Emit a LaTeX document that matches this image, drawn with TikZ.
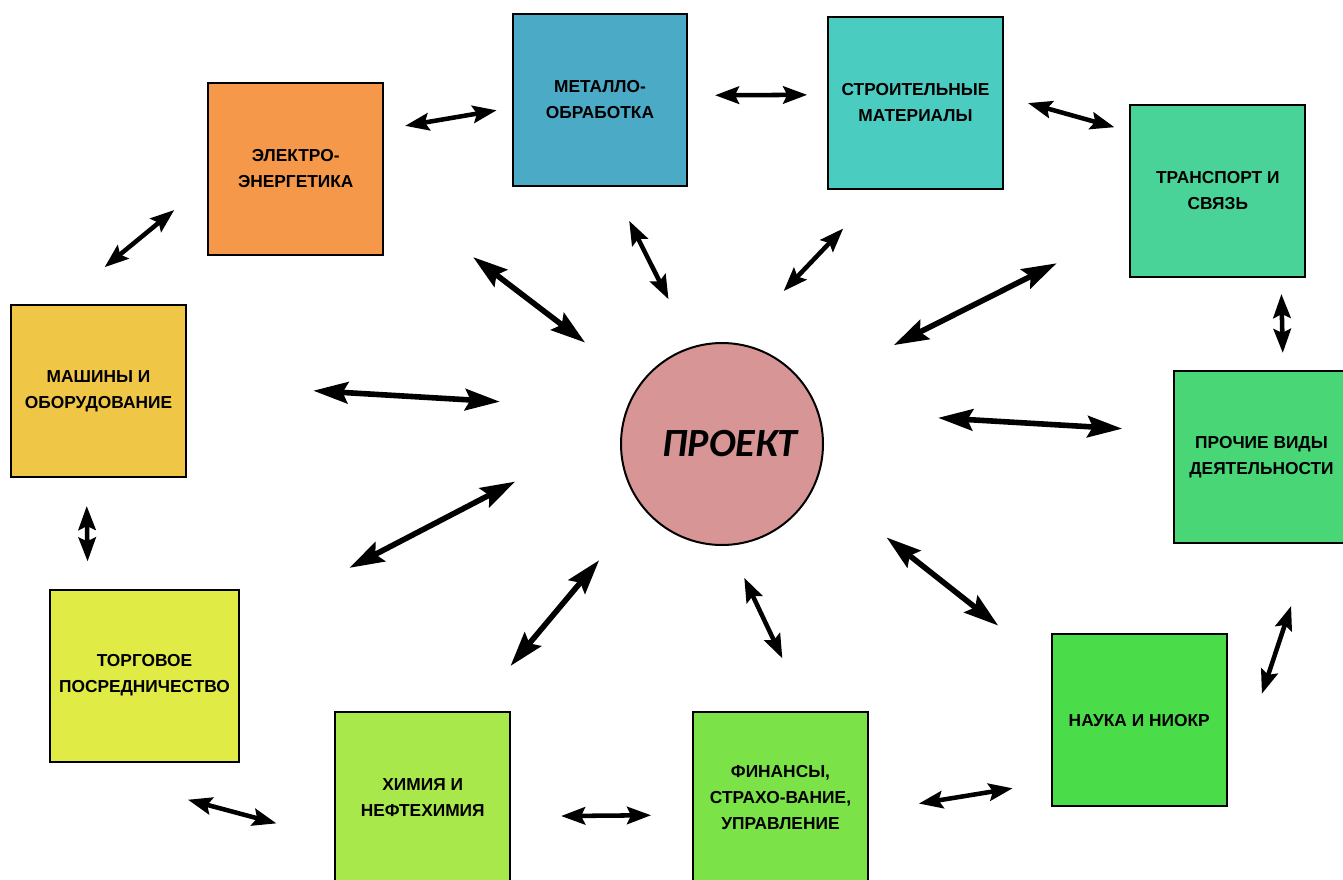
\documentclass[tikz,border=0pt]{standalone}
\usepackage{fontspec}
\setmainfont{Liberation Sans}
\newfontfamily\proektfont{Carlito}
\usepackage{tikz}
\usetikzlibrary{arrows.meta}
\definecolor{elektroC}{HTML}{F5984A}
\definecolor{metalloC}{HTML}{4BABC6}
\definecolor{stroitC}{HTML}{4BCCC0}
\definecolor{transportC}{HTML}{4AD399}
\definecolor{prochieC}{HTML}{48D677}
\definecolor{naukaC}{HTML}{4BDC4A}
\definecolor{finansyC}{HTML}{7BE348}
\definecolor{himiaC}{HTML}{A9E84B}
\definecolor{torgC}{HTML}{E0EB46}
\definecolor{mashinyC}{HTML}{F0C647}
\definecolor{proektC}{HTML}{D89595}

\begin{document}
\begin{tikzpicture}[x=0.75pt, y=-0.75pt,
  sector/.style={draw=black, line width=1.5pt, minimum width=131pt, minimum height=129pt,
    align=center, inner sep=2pt, font=\fontsize{13}{19.5}\selectfont\bfseries},
  link/.style={line width=3.4pt, >={Stealth[length=18pt, width=13pt, inset=3pt]}, <->},
  spoke/.style={line width=4.2pt, >={Stealth[length=26pt, width=16pt, inset=4pt]}, <->}]
  \useasboundingbox (0,0) rectangle (1343,879);
  % Centre
  \node[circle, draw=black, line width=1.5pt, fill=proektC, minimum size=151.5pt,
    font=\proektfont\fontsize{30}{36}\selectfont\bfseries\itshape] (proekt) at (722,444) {\hspace*{12pt}ПРОЕКТ};
  % Branches
  \node[sector, fill=elektroC] (elektro) at (295.75,168.75) {ЭЛЕКТРО-\\ЭНЕРГЕТИКА};
  \node[sector, fill=metalloC] (metallo) at (600,100) {МЕТАЛЛО-\\ОБРАБОТКА};
  \node[sector, fill=stroitC] (stroit) at (915.5,102.5) {СТРОИТЕЛЬНЫЕ\\МАТЕРИАЛЫ};
  \node[sector, fill=transportC] (transport) at (1217.8,191) {ТРАНСПОРТ И\\СВЯЗЬ};
  \node[sector, fill=prochieC] (prochie) at (1261.5,457) {ПРОЧИЕ ВИДЫ\\ДЕЯТЕЛЬНОСТИ};
  \node[sector, fill=naukaC] (nauka) at (1139.2,720.2) {НАУКА И НИОКР};
  \node[sector, fill=finansyC] (finansy) at (780.5,797.7) {ФИНАНСЫ,\\СТРАХО-ВАНИЕ,\\УПРАВЛЕНИЕ};
  \node[sector, fill=himiaC] (himia) at (422.75,797.7) {ХИМИЯ И\\НЕФТЕХИМИЯ};
  \node[sector, fill=torgC, minimum width=142pt] (torg) at (144.5,675.5) {ТОРГОВОЕ\\ПОСРЕДНИЧЕСТВО};
  \node[sector, fill=mashinyC] (mashiny) at (98.5,391) {МАШИНЫ И\\ОБОРУДОВАНИЕ};
  % Ring of neighbours
  \draw[link, shorten <=16pt, shorten >=11.4pt] (elektro.24.5) -- (metallo.185);
  \draw[link, shorten <=20pt, shorten >=15pt] (metallo.3.3) -- (stroit.175.1);
  \draw[link, shorten <=18.8pt, shorten >=11.7pt] (stroit.4.3) -- (transport.146.3);
  \draw[link, shorten <=12pt, shorten >=12.8pt] (transport.306.5) -- (prochie.76.9);
  \draw[link, shorten <=49pt, shorten >=81.6pt] (prochie.300.8) -- (nauka.319);
  \draw[link, shorten <=29pt, shorten >=38pt] (nauka.215.2) -- (finansy.351.6);
  \draw[link, shorten <=30.8pt, shorten >=37.5pt] (finansy.191.2) -- (himia.348.8);
  \draw[link, shorten <=45pt, shorten >=108pt] (himia.205.8) -- (torg.south west);
  \draw[link, shorten <=21pt, shorten >=20.3pt] (mashiny.262.4) -- (torg.123.6);
  \draw[link, shorten <=43.5pt, shorten >=32.2pt] (mashiny.114) -- (elektro.189);
  % Spokes to the project
  \draw[spoke, shorten <=84pt, shorten >=51.3pt] (elektro.347.9) -- (proekt.144.1);
  \draw[link, shorten <=28.4pt, shorten >=39.6pt] (metallo.278.9) -- (proekt.107.2);
  \draw[link, shorten <=40.4pt, shorten >=53.5pt] (stroit.248.7) -- (proekt.83.3);
  \draw[spoke, shorten <=61.1pt, shorten >=72.4pt] (transport.202.1) -- (proekt.33.9);
  \draw[spoke, shorten <=38.3pt, shorten >=89.9pt] (prochie.164.8) -- (proekt.19.5);
  \draw[spoke, shorten <=50.3pt, shorten >=66.9pt] (nauka.149.7) -- (proekt.338.5);
  \draw[link, shorten <=43.4pt, shorten >=26.6pt] (finansy.73.6) -- (proekt.274.8);
  \draw[spoke, shorten <=43.8pt, shorten >=50.9pt] (himia.60.9) -- (proekt.219.6);
  \draw[spoke, shorten <=92.3pt, shorten >=89.9pt] (torg.28.3) -- (proekt.170.1);
  \draw[spoke, shorten <=95pt, shorten >=94.9pt] (mashiny.5.1) -- (proekt.160.6);
\end{tikzpicture}
\end{document}
